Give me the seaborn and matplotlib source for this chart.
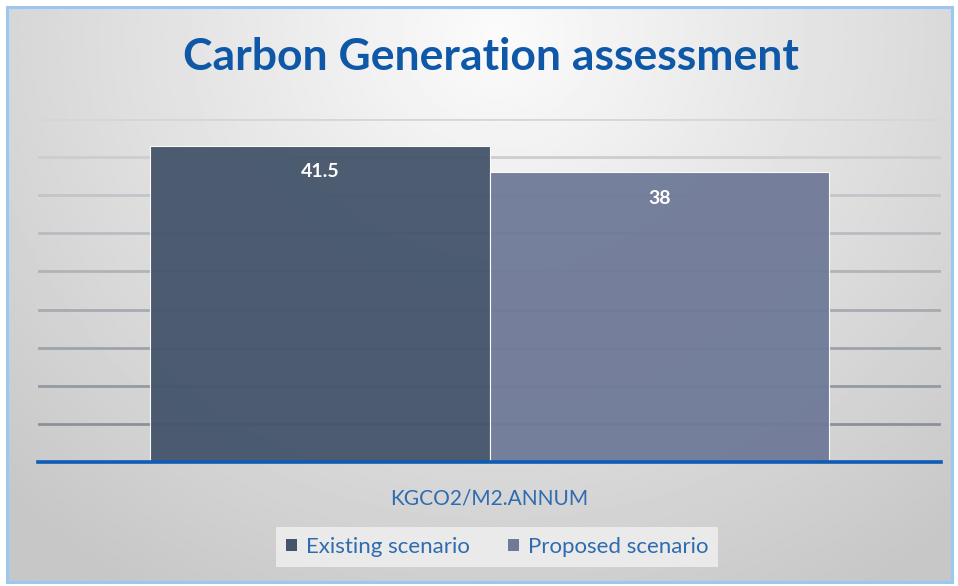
import numpy as np
import pandas as pd
import seaborn as sns
import matplotlib.pyplot as plt
from matplotlib.patches import Rectangle, Patch

# Data
metric = ['KGCO2/M2.ANNUM']
scenarios = ['Existing scenario', 'Proposed scenario']
values = [41.5, 38]
colors = ['#44546A', '#6F7A98']
labels = ['41.5', '38']

df = pd.DataFrame({'metric': metric * len(scenarios), 'scenario': scenarios, 'value': values})

sns.set_theme(style='white')
plt.rcParams['font.family'] = ['Lato', 'DejaVu Sans']

W, H = 958, 586
fig = plt.figure(figsize=(W / 100, H / 100), dpi=100)
fig.patch.set_facecolor('white')

# gradient background inside the light blue frame
bg = fig.add_axes([7 / W, 1 - 582 / H, 945 / W, 575 / H])
yy, xx = np.mgrid[0:1:300j, 0:1:500j]
r = np.sqrt(((xx - 0.52) / 0.72) ** 2 + ((yy - 0.05) / 1.1) ** 2)
shade = np.clip(0.985 - 0.2 * r, 0.78, 0.99)
bg.imshow(shade, cmap='gray', vmin=0, vmax=1, aspect='auto', extent=[0, 1, 1, 0])
bg.set_axis_off()
bg.add_patch(Rectangle((0, 0), 1, 1, transform=bg.transAxes, fill=False,
                       edgecolor='#9BC8F2', linewidth=2.2, clip_on=False))

ax = fig.add_axes([38 / W, 1 - 462 / H, 903 / W, 343 / H])
ax.set_facecolor('none')

sns.barplot(data=df, x='metric', y='value', hue='scenario', palette=colors,
            width=0.752, saturation=1, alpha=0.95, edgecolor='white', linewidth=0.8,
            ax=ax, zorder=3)

ax.set_ylim(0, 45)
ax.set_xlim(-0.5, 0.5)
ax.set_yticks(np.arange(5, 50, 5))
ax.yaxis.grid(True, linewidth=2.0, zorder=1)
grid = ax.get_ygridlines()
for i, gl in enumerate(grid):
    f = i / (len(grid) - 1)
    gl.set_color((0.55 + 0.28 * f, 0.57 + 0.27 * f, 0.60 + 0.25 * f))
ax.tick_params(axis='y', left=False, labelleft=False)
ax.tick_params(axis='x', length=0, pad=19, labelsize=15, labelcolor='#2E6BB0')
ax.set_xlabel('')
ax.set_ylabel('')
for s in ['left', 'right', 'top']:
    ax.spines[s].set_visible(False)
ax.spines['bottom'].set_color('#0E5CB6')
ax.spines['bottom'].set_linewidth(2.6)
ax.spines['bottom'].set_zorder(5)

for cont, lab in zip(ax.containers, labels):
    ax.bar_label(cont, labels=[lab], label_type='edge', padding=-25,
                 color='white', fontsize=14, fontweight='bold')

ax.legend_.remove()
handles = [Patch(facecolor=c, edgecolor='none') for c in colors]
leg = fig.legend(handles, scenarios, loc='center', bbox_to_anchor=(497 / W, 1 - 547 / H),
                 ncol=2, frameon=True, fontsize=16, handlelength=0.5, handleheight=0.5,
                 handletextpad=0.4, columnspacing=1.7, borderpad=0.45, fancybox=False)
leg.get_frame().set_facecolor('#EFEFEF')
leg.get_frame().set_edgecolor('none')
leg.get_frame().set_alpha(0.85)
for t in leg.get_texts():
    t.set_color('#2E6BB0')

fig.text(491 / W, 1 - 57 / H, 'Carbon Generation assessment', ha='center', va='center',
         fontsize=32, fontweight='bold', color='#0F58A8')

fig.savefig('out.png', dpi=100)
